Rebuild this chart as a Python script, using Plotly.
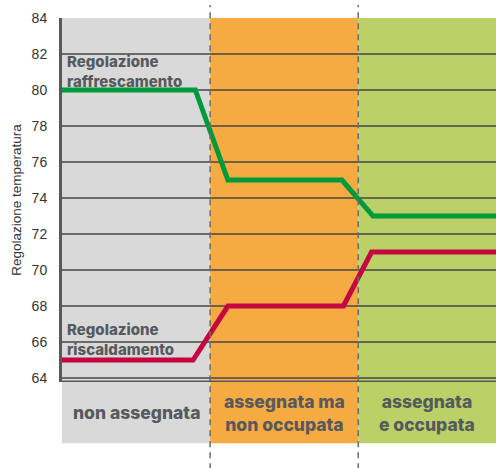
import plotly.graph_objects as go

# Phase boundaries along the horizontal axis (each phase is one unit wide)
phase_edges = [0.0, 1.0, 2.0, 2.93]
phase_labels = ["non assegnata", "assegnata ma<br>non occupata", "assegnata<br>e occupata"]
phase_colors = ["#d9d9d9", "#f6aa42", "#bbd067"]

# Cooling setpoint profile
cool_x = [0.0, 0.9, 1.12, 1.89, 2.1, 2.93]
cool_y = [80, 80, 75, 75, 73, 73]

# Heating setpoint profile
heat_x = [0.0, 0.885, 1.12, 1.9, 2.09, 2.93]
heat_y = [65, 65, 68, 68, 71, 71]

y_ticks = list(range(64, 85, 2))

label_color = "#565a5e"
label_font = "Inter"

fig = go.Figure()

fig.add_trace(go.Scatter(x=cool_x, y=cool_y, mode="lines",
                         line=dict(color="#009a3d", width=5), hoverinfo="skip"))
fig.add_trace(go.Scatter(x=heat_x, y=heat_y, mode="lines",
                         line=dict(color="#c4073f", width=5), hoverinfo="skip"))

shapes = []
# Phase backgrounds, extending down into the label band
for i, col in enumerate(phase_colors):
    shapes.append(dict(type="rect", xref="x", yref="paper",
                       x0=phase_edges[i], x1=phase_edges[i + 1], y0=-0.168, y1=1,
                       fillcolor=col, line=dict(width=0), layer="below"))
# Dashed separators between phases
for e in phase_edges[1:-1]:
    shapes.append(dict(type="line", xref="x", yref="paper",
                       x0=e, x1=e, y0=-0.24, y1=1.036,
                       line=dict(color="#6b6b6b", width=1.5, dash="6px,5px")))

annotations = []
for i, lab in enumerate(phase_labels):
    annotations.append(dict(xref="x", yref="paper",
                            x=(phase_edges[i] + phase_edges[i + 1]) / 2, y=-0.085,
                            text=lab, showarrow=False, yanchor="middle",
                            font=dict(family=label_font, size=17.5, color=label_color,
                                      weight=800)))

annotations.append(dict(xref="x", yref="y", x=0.02, y=79.83, xanchor="left", yanchor="bottom",
                        text="Regolazione<br>raffrescamento", showarrow=False, align="left",
                        font=dict(family=label_font, size=15, color=label_color, weight=800)))
annotations.append(dict(xref="x", yref="y", x=0.02, y=64.92, xanchor="left", yanchor="bottom",
                        text="Regolazione<br>riscaldamento", showarrow=False, align="left",
                        font=dict(family=label_font, size=15, color=label_color, weight=800)))

fig.update_layout(
    width=496, height=468,
    margin=dict(l=62, r=0, t=18, b=86),
    paper_bgcolor="white", plot_bgcolor="rgba(0,0,0,0)",
    showlegend=False,
    shapes=shapes, annotations=annotations,
    font=dict(family="Liberation Sans", color="#333333"),
)
fig.update_xaxes(range=[0, 2.93], showgrid=False, zeroline=False, showticklabels=False,
                 ticks="", showline=False, fixedrange=True)
fig.update_yaxes(range=[63.78, 84], tickvals=y_ticks, showgrid=True,
                 gridcolor="rgba(70,70,70,0.75)", gridwidth=1.5,
                 zeroline=False, showline=True, linecolor="#565a5e", linewidth=3,
                 ticks="", ticklabelstandoff=9,
                 tickfont=dict(family="Liberation Sans", size=14, color="#333333"),
                 title=dict(text="Regolazione temperatura", standoff=7,
                            font=dict(family="Liberation Sans", size=13.5, color="#333333")),
                 fixedrange=True)
# Bottom axis line drawn under the lowest tick
fig.add_shape(type="line", xref="paper", yref="y", x0=0, x1=1, y0=63.78, y1=63.78,
              line=dict(color="#565a5e", width=3))

fig.write_html("out.html")
